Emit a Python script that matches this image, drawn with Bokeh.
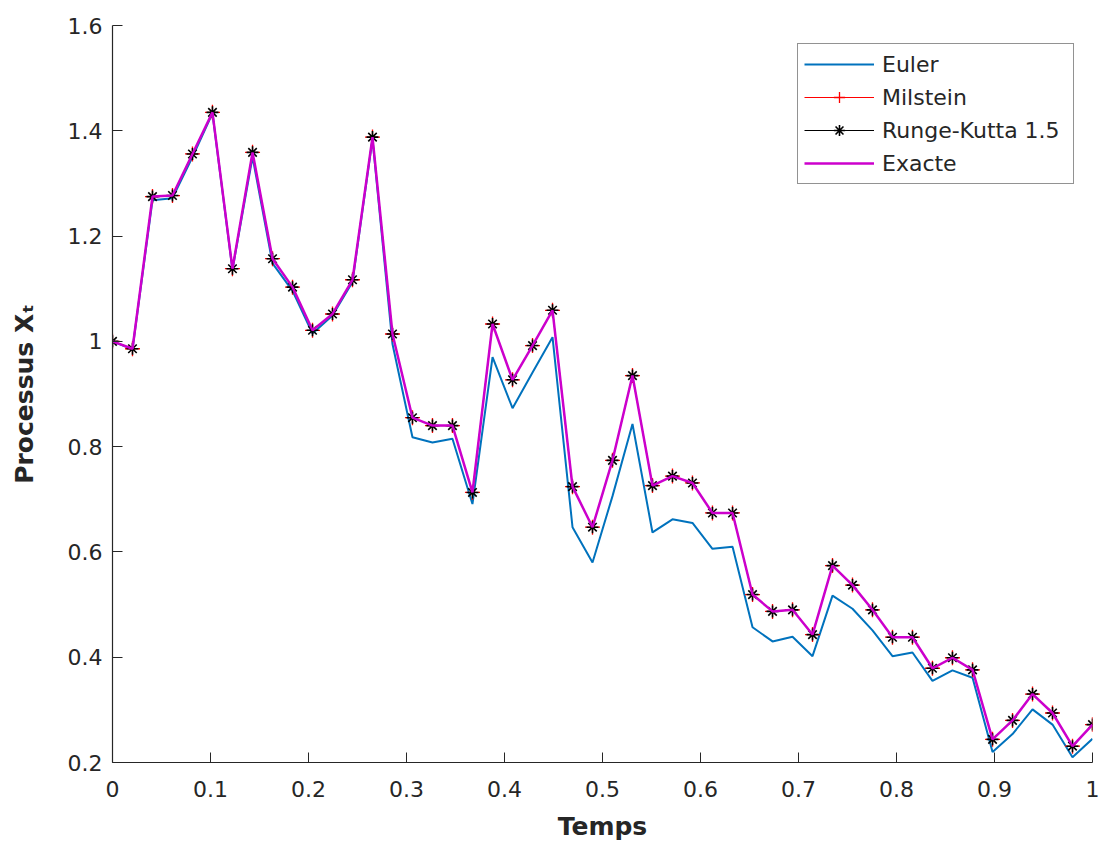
from bokeh.plotting import figure
from bokeh.models import Range1d, FixedTicker, NumeralTickFormatter
from bokeh.embed import file_html
from bokeh.resources import INLINE

# time grid (50 points on [0, 1])
t = [0.0, 0.0204, 0.0408, 0.0612, 0.0816, 0.1020, 0.1224, 0.1429, 0.1633, 0.1837,
     0.2041, 0.2245, 0.2449, 0.2653, 0.2857, 0.3061, 0.3265, 0.3469, 0.3673, 0.3878,
     0.4082, 0.4286, 0.4490, 0.4694, 0.4898, 0.5102, 0.5306, 0.5510, 0.5714, 0.5918,
     0.6122, 0.6327, 0.6531, 0.6735, 0.6939, 0.7143, 0.7347, 0.7551, 0.7755, 0.7959,
     0.8163, 0.8367, 0.8571, 0.8776, 0.8980, 0.9184, 0.9388, 0.9592, 0.9796, 1.0]

euler = [1.000, 0.985, 1.268, 1.272, 1.350, 1.433, 1.136, 1.350, 1.148, 1.096,
         1.015, 1.049, 1.113, 1.384, 0.995, 0.818, 0.808, 0.815, 0.691, 0.970,
         0.873, 0.941, 1.008, 0.647, 0.580, 0.706, 0.843, 0.637, 0.662, 0.655,
         0.606, 0.610, 0.457, 0.430, 0.439, 0.402, 0.517, 0.492, 0.451, 0.402,
         0.409, 0.355, 0.375, 0.361, 0.220, 0.254, 0.301, 0.272, 0.210, 0.245]

milstein = [1.000, 0.986, 1.275, 1.277, 1.356, 1.435, 1.138, 1.359, 1.157, 1.103,
            1.021, 1.052, 1.117, 1.388, 1.014, 0.855, 0.840, 0.840, 0.713, 1.033,
            0.927, 0.992, 1.059, 0.724, 0.647, 0.774, 0.935, 0.726, 0.744, 0.731,
            0.674, 0.674, 0.519, 0.487, 0.490, 0.443, 0.574, 0.537, 0.490, 0.438,
            0.438, 0.379, 0.399, 0.376, 0.244, 0.280, 0.330, 0.294, 0.231, 0.272]

runge_kutta = [1.000, 0.986, 1.275, 1.277, 1.356, 1.435, 1.138, 1.359, 1.157, 1.103,
               1.021, 1.052, 1.117, 1.388, 1.014, 0.855, 0.840, 0.840, 0.713, 1.033,
               0.927, 0.992, 1.059, 0.724, 0.647, 0.774, 0.935, 0.726, 0.744, 0.731,
               0.674, 0.674, 0.519, 0.487, 0.490, 0.443, 0.574, 0.537, 0.490, 0.438,
               0.438, 0.379, 0.399, 0.376, 0.244, 0.280, 0.330, 0.294, 0.231, 0.272]

exacte = [1.000, 0.986, 1.275, 1.277, 1.356, 1.435, 1.138, 1.359, 1.157, 1.103,
          1.021, 1.052, 1.117, 1.388, 1.014, 0.855, 0.840, 0.840, 0.713, 1.033,
          0.927, 0.992, 1.059, 0.724, 0.647, 0.774, 0.935, 0.726, 0.744, 0.731,
          0.674, 0.674, 0.519, 0.487, 0.490, 0.443, 0.574, 0.537, 0.490, 0.438,
          0.438, 0.379, 0.399, 0.376, 0.244, 0.280, 0.330, 0.294, 0.231, 0.272]

x_ticks = [0, 0.1, 0.2, 0.3, 0.4, 0.5, 0.6, 0.7, 0.8, 0.9, 1.0]
y_ticks = [0.2, 0.4, 0.6, 0.8, 1.0, 1.2, 1.4, 1.6]

FONT = "DejaVu Sans"
AXC = "#262626"

p = figure(width=1100, height=845, output_backend="svg", toolbar_location=None,
           x_range=Range1d(0, 1), y_range=Range1d(0.2, 1.6),
           min_border_left=112, min_border_right=8, min_border_top=25,
           min_border_bottom=83)
p.grid.visible = False
p.outline_line_color = None
p.background_fill_color = "white"

p.line(t, euler, color="#0072BD", line_width=2, legend_label="Euler")
p.line(t, milstein, color="#FF0000", line_width=1, legend_label="Milstein")
p.scatter(t, milstein, marker="cross", size=15, line_color="#FF0000", line_width=1.3,
          legend_label="Milstein")
p.line(t, runge_kutta, color="black", line_width=1, legend_label="Runge-Kutta 1.5")
p.scatter(t, runge_kutta, marker="asterisk", size=12, line_color="black", line_width=1.6,
          legend_label="Runge-Kutta 1.5")
p.line(t, exacte, color="#CC00CC", line_width=2.5, legend_label="Exacte")

for ax, ticks in ((p.xaxis[0], x_ticks), (p.yaxis[0], y_ticks)):
    ax.ticker = FixedTicker(ticks=ticks)
    ax.formatter = NumeralTickFormatter(format="0.[0]")
    ax.major_tick_in = 10
    ax.major_tick_out = 0
    ax.minor_tick_in = 0
    ax.minor_tick_out = 0
    ax.axis_line_color = AXC
    ax.major_tick_line_color = AXC
    ax.axis_line_width = 1.2
    ax.major_label_text_font = FONT
    ax.major_label_text_font_size = "22px"
    ax.major_label_text_color = AXC
    ax.axis_label_text_font = FONT
    ax.axis_label_text_font_style = "bold"
    ax.axis_label_text_font_size = "25px"
    ax.axis_label_text_color = AXC

p.xaxis.major_label_standoff = 18
p.yaxis.major_label_standoff = 10
p.xaxis.axis_label = "Temps"
p.xaxis.axis_label_standoff = 12
p.yaxis.axis_label = "Processus X\u209c"
p.yaxis.axis_label_standoff = 26

lg = p.legend[0]
lg.location = "top_right"
lg.margin = 18
lg.padding = 6
lg.spacing = 5
lg.glyph_width = 70
lg.glyph_height = 28
lg.label_height = 28
lg.label_width = 185
lg.label_standoff = 8
lg.label_text_font = FONT
lg.label_text_font_size = "22px"
lg.label_text_color = AXC
lg.border_line_color = AXC
lg.border_line_width = 1.2
lg.background_fill_color = "white"
lg.background_fill_alpha = 1

open("out.html", "w").write(file_html(p, INLINE))
